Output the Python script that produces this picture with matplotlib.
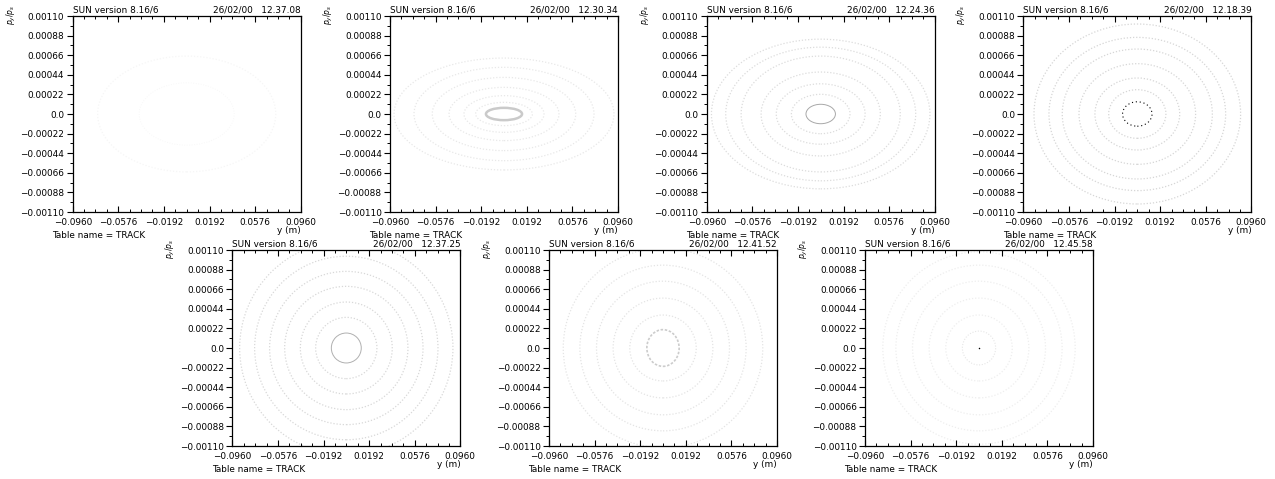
import matplotlib
matplotlib.use("Agg")
import matplotlib.pyplot as plt
from matplotlib.patches import Ellipse

# time stamps of the seven MAD runs (order: top row, then bottom row)
stamps = ["12.37.08", "12.30.34", "12.24.36", "12.18.39",
          "12.37.25", "12.41.52", "12.45.58"]

# ring semi-axes: y (m) and p_y/p_s
ring_y = [
    [0.040, 0.075],
    [0.0152, 0.0239, 0.0337, 0.0463, 0.0604, 0.0758, 0.0926],
    [0.0124, 0.0247, 0.0374, 0.0502, 0.0670, 0.0800, 0.0920],
    [0.0124, 0.0241, 0.0357, 0.0491, 0.0632, 0.0744, 0.0870],
    [0.0126, 0.0258, 0.0387, 0.0519, 0.0646, 0.0772, 0.0898],
    [0.0136, 0.0280, 0.0420, 0.0560, 0.0700, 0.0840],
    [0.0140, 0.0280, 0.0420, 0.0560, 0.0700, 0.0810],
]
ring_p = [
    [0.00035, 0.00065],
    [0.0000692, 0.000131, 0.000206, 0.000299, 0.000411, 0.000524, 0.000628],
    [0.000109, 0.000221, 0.000339, 0.000471, 0.00065, 0.00075, 0.00084],
    [0.000137, 0.000273, 0.000404, 0.000565, 0.000729, 0.00086, 0.00101],
    [0.000168, 0.000344, 0.000516, 0.000692, 0.00086, 0.00103, 0.0012],
    [0.000206, 0.00037, 0.00056, 0.00075, 0.00093, 0.00112],
    [0.00019, 0.00037, 0.00056, 0.00075, 0.00093, 0.00108],
]
# single tracked point sitting at the origin in the last run
centre_y = [0.0]
centre_p = [0.0]

xticks = [-0.0960, -0.0576, -0.0192, 0.0192, 0.0576, 0.0960]
xlabels = ["\u22120.0960", "\u22120.0576", "\u22120.0192", "0.0192", "0.0576", "0.0960"]
yticks = [0.0011, 0.00088, 0.00066, 0.00044, 0.00022, 0.0,
          -0.00022, -0.00044, -0.00066, -0.00088, -0.0011]
ylabels = ["0.00110", "0.00088", "0.00066", "0.00044", "0.00022", "0.0",
           "\u22120.00022", "\u22120.00044", "\u22120.00066", "\u22120.00088", "\u22120.00110"]

# inner ring look per panel, then look of the outer rings
inner_style = [
    dict(ec="#f6f6f6", ls=(0, (1, 2)), lw=0.6),
    dict(ec="#cacaca", ls="-", lw=1.8),
    dict(ec="#a8a8a8", ls="-", lw=0.7),
    dict(ec="black", ls=(0, (1, 2.5)), lw=0.8),
    dict(ec="#b0b0b0", ls="-", lw=0.7),
    dict(ec="#cccccc", ls=(0, (1.5, 1)), lw=1.2),
    dict(ec="#e6e6e6", ls=(0, (1, 1.5)), lw=0.8),
]
outer_col = ["#f6f6f6", "#e8e8e8", "#dcdcdc", "#d6d6d6", "#d8d8d8", "#e4e4e4", "#eeeeee"]

W, H = 1275, 479
fig = plt.figure(figsize=(W / 100, H / 100), dpi=100)
plt.rcParams["font.family"] = "DejaVu Sans"
fs = 6.4

lefts = [72.7, 390, 706.7, 1023.3, 232.3, 549, 865]
tops = [16, 16, 16, 16, 250, 250, 250]
aw, ah = 228, 196

for i in range(7):
    ax = fig.add_axes([lefts[i] / W, 1 - (tops[i] + ah) / H, aw / W, ah / H])
    ax.set_xlim(-0.096, 0.096)
    ax.set_ylim(-0.0011, 0.0011)

    for k, (a, b) in enumerate(zip(ring_y[i], ring_p[i])):
        if k == 0:
            st = inner_style[i]
        else:
            st = dict(ec=outer_col[i], ls=(0, (1, 1.5)), lw=0.9)
        ax.add_patch(Ellipse((0, 0), 2 * a, 2 * b, fill=False, **st))
    if i == 6:
        ax.scatter(centre_y, centre_p, s=1.2, c="black", lw=0)

    ax.set_xticks(xticks)
    ax.set_xticklabels(xlabels, fontsize=fs)
    ax.set_yticks(yticks)
    ax.set_yticklabels(ylabels, fontsize=fs)
    ax.set_xticks([-0.096 + 0.0096 * j for j in range(21)], minor=True)
    ax.set_yticks([-0.0011 + 0.00011 * j for j in range(21)], minor=True)
    ax.tick_params(axis="x", which="both", direction="in", top=True, bottom=True, pad=4)
    ax.tick_params(axis="x", which="major", length=4, width=0.8)
    ax.tick_params(axis="x", which="minor", length=2.5, width=0.7)
    ax.tick_params(axis="y", which="both", direction="out", right=False, pad=2)
    ax.tick_params(axis="y", which="major", length=4, width=0.8)
    ax.tick_params(axis="y", which="minor", length=2.5, width=0.7)
    for sp in ax.spines.values():
        sp.set_linewidth(0.9)

    ax.text(0.0, 1.03, "SUN version 8.16/6", transform=ax.transAxes,
            fontsize=fs, ha="left", va="center")
    ax.text(1.0, 1.03, "26/02/00   " + stamps[i], transform=ax.transAxes,
            fontsize=fs, ha="right", va="center")
    ax.text(1.0, -0.094, "y (m)", transform=ax.transAxes,
            fontsize=fs, ha="right", va="center")
    ax.text(-0.09, -0.12, "Table name = TRACK", transform=ax.transAxes,
            fontsize=fs, ha="left", va="center")
    ax.text(-0.27, 1.06, r"$p_y/p_s$", transform=ax.transAxes,
            fontsize=5.5, rotation=90, ha="center", va="top")

fig.savefig("out.png", dpi=100)
